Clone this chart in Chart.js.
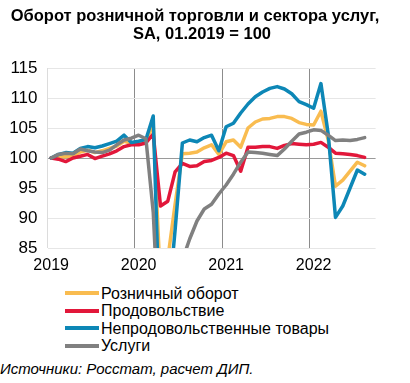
<!DOCTYPE html>
<html><head><meta charset="utf-8">
<script src="https://cdn.jsdelivr.net/npm/chart.js@4/dist/chart.umd.min.js"></script>
<style>
html,body{margin:0;padding:0;background:#fff;width:410px;height:383px;overflow:hidden;font-family:"Liberation Sans",Arial,sans-serif;}
#wrap{position:relative;width:410px;height:383px;}
#c{position:absolute;left:0;top:0;}
.t{position:absolute;left:0;width:410px;text-align:center;font-weight:bold;font-size:16.5px;color:#000;white-space:nowrap;line-height:18px;}
#legend{position:absolute;left:65px;top:284.5px;font-size:16px;line-height:17.5px;color:#000;}
.li{display:flex;align-items:center;height:17.5px;white-space:nowrap;}
.sw{width:34px;height:4px;margin-right:2px;}
#src{position:absolute;left:0;top:360px;font-size:15px;font-style:italic;color:#000;white-space:nowrap;}
</style></head>
<body><div id="wrap">
<canvas id="c" width="410" height="285"></canvas>
<div class="t" id="t1" style="top:6px;padding-right:20px;box-sizing:border-box;"></div>
<div class="t" id="t2" style="top:24px;padding-right:6px;box-sizing:border-box;"></div>
<div id="legend"></div>
<div id="src"></div>
</div>
<script>
const titleLines = ["Оборот розничной торговли и сектора услуг,", "SA, 01.2019 = 100"];
const sourceText = "Источники: Росстат, расчет ДИП.";
const years = [2019, 2020, 2021, 2022];
const monthsPerYear = 12;
const nCategories = 45; // 01.2019 .. 09.2022
const yTicks = [85, 90, 95, 100, 105, 110, 115];

const seriesNames = ["Розничный оборот", "Продовольствие", "Непродовольственные товары", "Услуги"];
const seriesColors = ["#F9BC50", "#E2173A", "#0D87B6", "#808080"];

const retail = [100,100.2,100.2,100.4,101.0,101.3,100.9,101.2,101.6,102.0,102.8,102.4,
  102.6,102.9,105.5,79,83.2,92.3,100.7,100.8,101.0,101.7,102.2,100.6,
  102.7,103.0,101.8,105.0,106.0,106.5,106.6,106.9,106.9,106.6,105.9,105.6,
  105.5,107.8,103.0,95.3,96.3,97.8,99.3,98.7];
const food = [100,99.8,99.4,100.0,100.3,100.6,99.9,100.3,100.7,101.2,101.9,102.2,
  102.2,102.5,104.0,92.0,92.8,97.7,99.1,98.6,98.7,99.4,99.6,100.1,
  100.8,100.4,97.8,101.8,101.8,101.9,101.9,101.6,102.1,102.4,102.3,102.2,
  102.3,102.6,101.8,100.8,100.7,100.6,100.4,100.1];
const nonFood = [100,100.6,100.9,100.8,101.6,101.9,101.7,102.0,102.4,102.8,103.8,102.6,
  102.8,103.1,107.0,68,74.5,88,102.5,103.0,102.7,103.4,103.8,101.2,
  105.2,105.8,107.5,109.0,110.2,111.0,111.6,111.9,111.5,110.7,109.4,108.9,
  108.3,112.4,104.0,90.1,92.0,95.0,98.0,97.3];
const services = [100,100.6,100.8,100.7,101.5,101.2,101.0,100.9,101.3,102.2,103.0,103.3,
  103.8,103.2,91,66,67,76,83,86.5,89.5,91.5,92.3,94.0,
  95.5,97.3,99.3,101.0,100.9,100.8,100.6,100.4,101.5,102.8,104.0,104.3,
  104.7,104.6,103.8,102.9,103.0,102.9,103.1,103.4];

const seriesData = [retail, food, nonFood, services];
const drawOrder = [3, 2, 1, 0]; // services on top

const labels = [];
for (let i = 0; i < nCategories; i++) {
  const y = years[0] + Math.floor(i / monthsPerYear);
  const m = (i % monthsPerYear) + 1;
  labels.push((m < 10 ? "0" : "") + m + "." + y);
}

document.getElementById("t1").textContent = titleLines[0];
document.getElementById("t2").textContent = titleLines[1];
document.getElementById("src").textContent = sourceText;
const lg = document.getElementById("legend");
seriesNames.forEach((n, k) => {
  const row = document.createElement("div"); row.className = "li";
  const sw = document.createElement("span"); sw.className = "sw"; sw.style.background = seriesColors[k];
  const tx = document.createElement("span"); tx.textContent = n;
  row.appendChild(sw); row.appendChild(tx); lg.appendChild(row);
});

const FONT = {family: "'Liberation Sans', Arial, sans-serif", size: 16};

new Chart(document.getElementById("c"), {
  type: "line",
  data: {
    labels: labels,
    datasets: seriesNames.map((n, k) => ({
      label: n, data: seriesData[k], borderColor: seriesColors[k], backgroundColor: seriesColors[k],
      borderWidth: 3.5, pointRadius: 0, tension: 0, fill: false, order: drawOrder[k],
      borderCapStyle: "round", borderJoinStyle: "round"
    }))
  },
  options: {
    responsive: false, animation: false, devicePixelRatio: 1,
    layout: {padding: {top: 68, right: 34.4, left: 0, bottom: 0}},
    plugins: {legend: {display: false}, title: {display: false}, tooltip: {enabled: false}},
    scales: {
      x: {
        type: "category", offset: true,
        border: {display: false},
        grid: {
          offset: true, drawTicks: false, lineWidth: 1,
          color: (c) => c.index === 0 ? "#dcdcdc" : ((c.index % monthsPerYear === 0 && c.index < nCategories) ? "#8c8c8c" : "rgba(0,0,0,0)")
        },
        ticks: {
          autoSkip: false, maxRotation: 0, minRotation: 0, padding: 8, color: "#000", font: FONT,
          callback: function(v, i) { return i % monthsPerYear === 0 ? String(years[0] + i / monthsPerYear) : ""; }
        },
        afterFit: (s) => { s.height = 37; }
      },
      y: {
        min: 85, max: 115,
        border: {display: false},
        afterBuildTicks: (s) => { s.ticks = yTicks.map(v => ({value: v})); },
        grid: {drawTicks: false, lineWidth: 1, color: (c) => c.tick && c.tick.value === 100 ? "#9a9a9a" : "#e6e6e6"},
        ticks: {padding: 10, color: "#000", font: {family: FONT.family, size: 17}},
        afterFit: (s) => { s.width = 47.5; }
      }
    }
  }
});
</script>
</body></html>
